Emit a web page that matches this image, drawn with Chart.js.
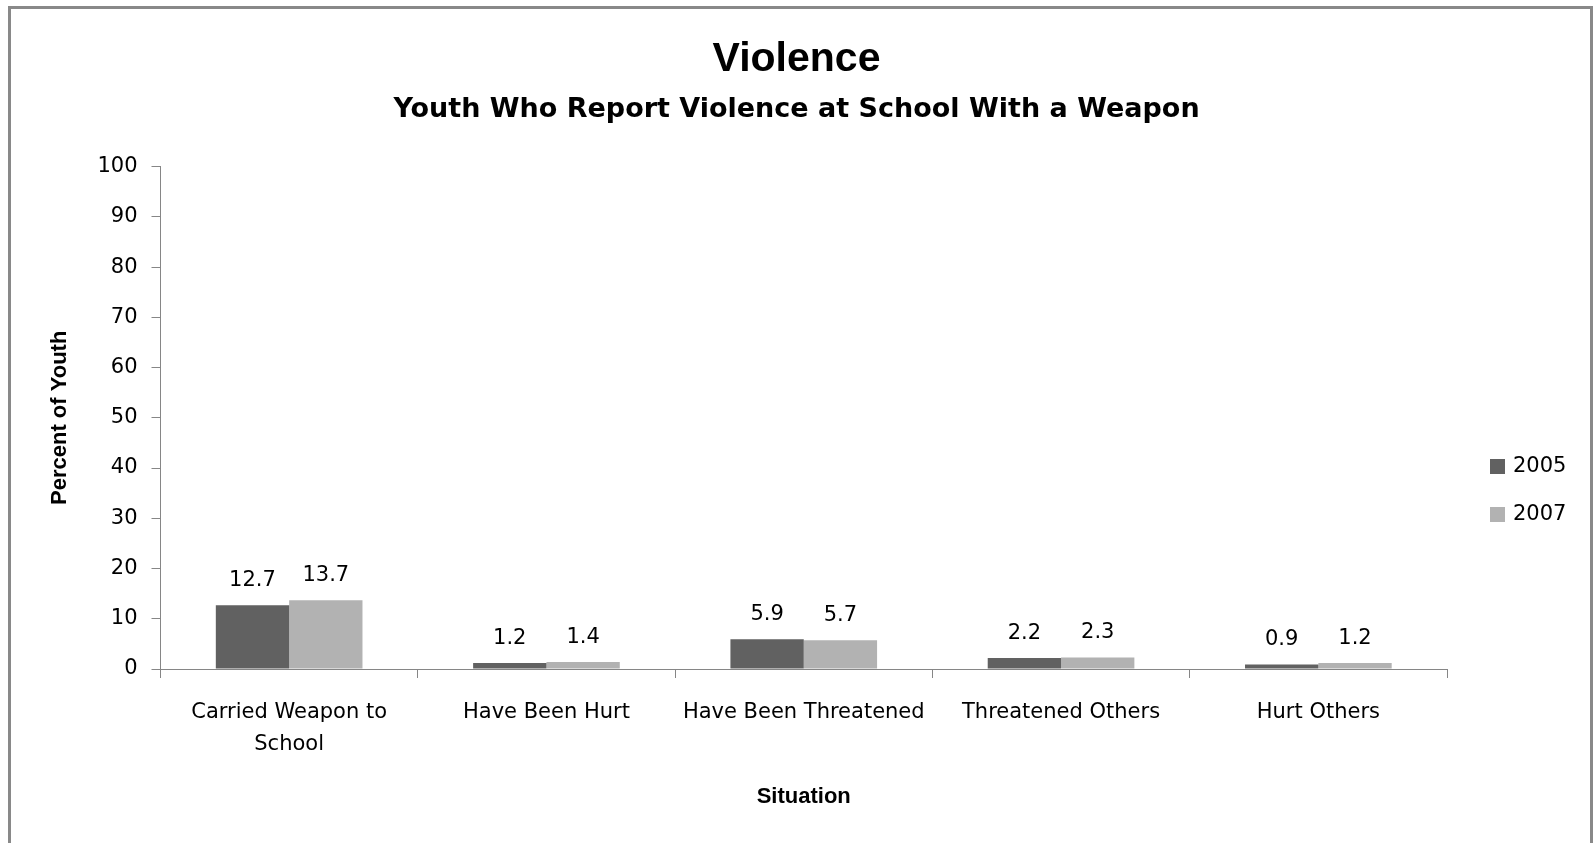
<!DOCTYPE html>
<html>
<head>
<meta charset="utf-8">
<title>Violence</title>
<script src="https://cdn.jsdelivr.net/npm/chart.js@4.4.1/dist/chart.umd.min.js"></script>
<style>
  html, body { margin: 0; padding: 0; background: #ffffff; overflow: hidden; }
  #wrap { position: relative; width: 1593px; height: 843px; }
  #frame {
    position: absolute;
    left: 8px;
    top: 6px;
    width: 1585px;
    height: 900px;
    box-sizing: border-box;
    border: 3px solid #898989;
    pointer-events: none;
  }
  canvas { position: absolute; left: 0; top: 0; }
</style>
</head>
<body>
<div id="wrap">
  <canvas id="chart" width="1593" height="843"></canvas>
  <div id="frame"></div>
</div>
<script>
const categories = [
  ["Carried Weapon to", "School"],
  "Have Been Hurt",
  "Have Been Threatened",
  "Threatened Others",
  "Hurt Others",
];
const years = ["2005", "2007"];
const values2005 = [12.7, 1.2, 5.9, 2.2, 0.9];
const values2007 = [13.7, 1.4, 5.7, 2.3, 1.2];
const yTicks = [0, 10, 20, 30, 40, 50, 60, 70, 80, 90, 100];

const colors = {
  dark: "#616161",
  light: "#b2b2b2",
  axis: "#868686",
  text: "#000000",
};

const regularFont = "'DejaVu Sans', sans-serif";
const boldFont = "'Liberation Sans', Arial, sans-serif";

// value labels above each bar
const barLabelPlugin = {
  id: "barLabels",
  afterDatasetsDraw(chart) {
    const { ctx } = chart;
    ctx.save();
    ctx.fillStyle = colors.text;
    ctx.font = `21px ${regularFont}`;
    ctx.textAlign = "center";
    ctx.textBaseline = "alphabetic";
    chart.data.datasets.forEach((dataset, i) => {
      const meta = chart.getDatasetMeta(i);
      meta.data.forEach((bar, j) => {
        ctx.fillText(Number(dataset.data[j]).toFixed(1), bar.x, bar.y - 19);
      });
    });
    ctx.restore();
  },
};

// legend on the right, placed like the original
const sideLegendPlugin = {
  id: "sideLegend",
  afterDraw(chart, _args, opts) {
    const { ctx } = chart;
    ctx.save();
    ctx.font = `21px ${regularFont}`;
    ctx.textBaseline = "middle";
    ctx.textAlign = "left";
    chart.data.datasets.forEach((dataset, i) => {
      const cy = opts.top + i * opts.gap;
      ctx.fillStyle = dataset.backgroundColor;
      ctx.fillRect(opts.left, cy - 7, 15, 15);
      ctx.fillStyle = colors.text;
      ctx.fillText(dataset.label, opts.left + 23, cy + 1);
    });
    ctx.restore();
  },
};

Chart.defaults.font.family = regularFont;
Chart.defaults.color = colors.text;

new Chart(document.getElementById("chart"), {
  type: "bar",
  plugins: [barLabelPlugin, sideLegendPlugin],
  data: {
    labels: categories,
    datasets: [
      {
        label: years[0],
        data: values2005,
        backgroundColor: colors.dark,
        borderWidth: 0,
      },
      {
        label: years[1],
        data: values2007,
        backgroundColor: colors.light,
        borderWidth: 0,
      },
    ],
  },
  options: {
    responsive: false,
    animation: false,
    devicePixelRatio: 1,
    categoryPercentage: 0.57,
    barPercentage: 1.0,
    layout: {
      padding: 0,
    },
    scales: {
      x: {
        grid: {
          display: true,
          drawOnChartArea: false,
          drawTicks: true,
          tickLength: 9,
          color: colors.axis,
          offset: true,
        },
        border: { color: colors.axis, width: 1 },
        ticks: {
          color: colors.text,
          font: { size: 21, lineHeight: 1.5 },
          padding: 19,
          maxRotation: 0,
          minRotation: 0,
          autoSkip: false,
        },
        title: {
          display: true,
          text: "Situation",
          color: colors.text,
          font: { family: boldFont, size: 22, weight: "bold", lineHeight: 1.2 },
          padding: { top: 0, bottom: 33 },
        },
        afterFit(scale) {
          scale.height = 174;
        },
      },
      y: {
        min: 0,
        max: 100,
        grid: {
          display: true,
          drawOnChartArea: false,
          drawTicks: true,
          tickLength: 9,
          color: colors.axis,
        },
        border: { color: colors.axis, width: 1 },
        afterBuildTicks(scale) {
          scale.ticks = yTicks.map((v) => ({ value: v }));
        },
        ticks: {
          color: colors.text,
          font: { size: 21 },
          padding: 14,
        },
        title: {
          display: true,
          text: "Percent of Youth",
          color: colors.text,
          font: { family: boldFont, size: 22, weight: "bold", lineHeight: 1.2 },
          padding: { top: 47, bottom: 0 },
        },
        afterFit(scale) {
          scale.width = 160.5;
        },
      },
      // empty right-hand axis that only reserves room for the legend
      legendSpace: {
        type: "linear",
        position: "right",
        display: true,
        grid: { display: false },
        border: { display: false },
        ticks: { display: false },
        afterFit(scale) {
          scale.width = 146;
        },
      },
    },
    plugins: {
      legend: { display: false },
      tooltip: { enabled: false },
      title: {
        display: true,
        text: "Violence",
        color: colors.text,
        font: { family: boldFont, size: 41, weight: "bold", lineHeight: 1.2 },
        padding: { top: 35, bottom: 10 },
      },
      subtitle: {
        display: true,
        text: "Youth Who Report Violence at School With a Weapon",
        color: colors.text,
        font: { family: regularFont, size: 27, weight: "bold", lineHeight: 1.2 },
        padding: { top: 0, bottom: 40 },
      },
      sideLegend: {
        left: 1490,
        top: 466,
        gap: 48,
      },
    },
  },
});
</script>
</body>
</html>
